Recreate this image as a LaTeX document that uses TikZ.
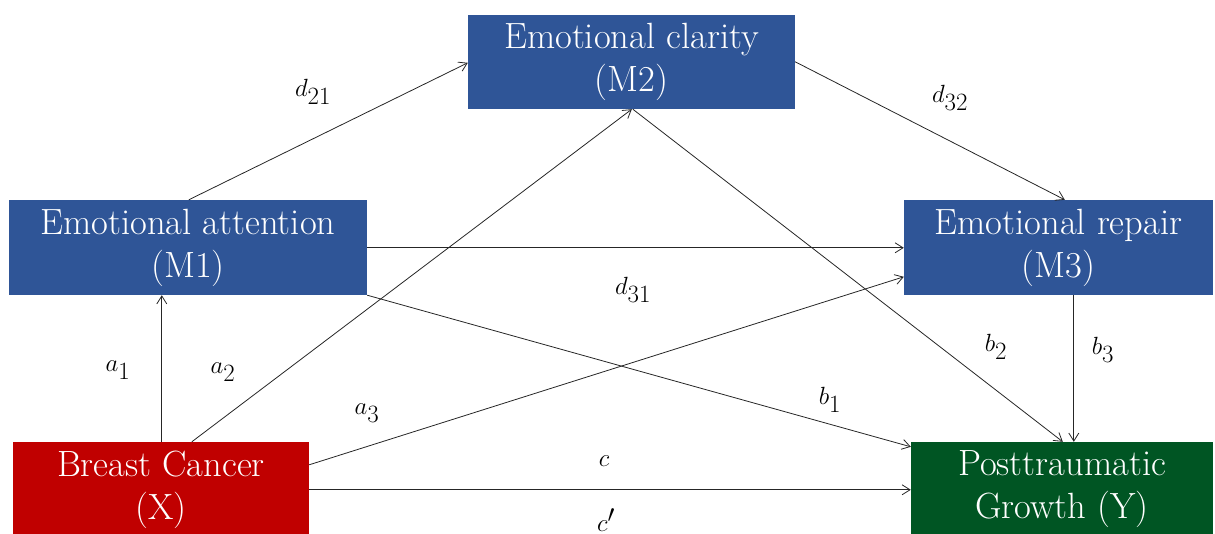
\documentclass[tikz,border=0pt]{standalone}
\usetikzlibrary{arrows.meta,calc}
\definecolor{boxblue}{RGB}{47,85,151}
\definecolor{boxred}{RGB}{192,0,0}
\definecolor{boxgreen}{RGB}{0,85,35}
\begin{document}
\begin{tikzpicture}[x=1pt,y=-1pt,
  box/.style={rectangle,inner sep=0pt,text=white,align=center,
    font=\fontsize{36.5}{43}\selectfont,
    execute at begin node={\rule{0pt}{44pt}}},
  conn/.style={draw=black!85,line width=0.8pt,-{Straight Barb[length=8pt,width=10pt]}},
  lab/.style={font=\fontsize{35}{38}\selectfont,inner sep=0pt}]
\useasboundingbox (0,0) rectangle (1215,534);
\node[box,fill=boxblue,minimum width=327pt,minimum height=94pt] (M2) at (631.5,62) {Emotional clarity\\(M2)};
\node[box,fill=boxblue,minimum width=358pt,minimum height=95pt] (M1) at (188,247.5) {Emotional attention\\(M1)};
\node[box,fill=boxblue,minimum width=309pt,minimum height=95pt] (M3) at (1058.5,247.5) {Emotional repair\\(M3)};
\node[box,fill=boxred,minimum width=296pt,minimum height=95pt] (X) at (161,489.5) {Breast Cancer\\(X)};
\node[box,fill=boxgreen,minimum width=302pt,minimum height=95pt] (Y) at (1062,489.5) {Posttraumatic\\Growth (Y)};
% connectors
\draw[conn] ($(X.north west)+(149,0)$) -- ($(M1.south west)+(153,0)$);
\draw[conn] ($(X.north west)+(179,0)$) -- ($(M2.south west)+(164,0)$);
\draw[conn] ($(X.north east)+(0,23)$) -- ($(M3.north west)+(0,77)$);
\draw[conn] ($(X.north east)+(0,48)$) -- ($(Y.north west)+(0,48)$);
\draw[conn] ($(M1.north west)+(180,0)$) -- ($(M2.north west)+(0,48)$);
\draw[conn] ($(M1.north east)+(0,48)$) -- ($(M3.north west)+(0,48)$);
\draw[conn] (M1.south east) -- ($(Y.north west)+(0,5)$);
\draw[conn] ($(M2.south west)+(165,0)$) -- ($(Y.north west)+(152,0)$);
\draw[conn] ($(M2.north east)+(0,47)$) -- ($(M3.north west)+(161,0)$);
\draw[conn] ($(M3.south west)+(170,0)$) -- ($(Y.north west)+(163,0)$);
% labels
\node[lab] (la1) at (118,370) {$a_1$};
\node[lab] (la2) at (223,372) {$a_2$};
\node[lab] (la3) at (367,413) {$a_3$};
\node[lab] (ld21) at (313,92) {$d_{21}$};
\node[lab] (ld32) at (950,98) {$d_{32}$};
\node[lab] (ld31) at (633,290) {$d_{31}$};
\node[lab] (lb1) at (830,400) {$b_1$};
\node[lab] (lb2) at (996,347) {$b_2$};
\node[lab] (lb3) at (1103,350) {$b_3$};
\node[lab] (lc) at (604,461) {$c$};
\node[lab] (lcp) at (606,520) {$c'$};
\end{tikzpicture}
\end{document}
